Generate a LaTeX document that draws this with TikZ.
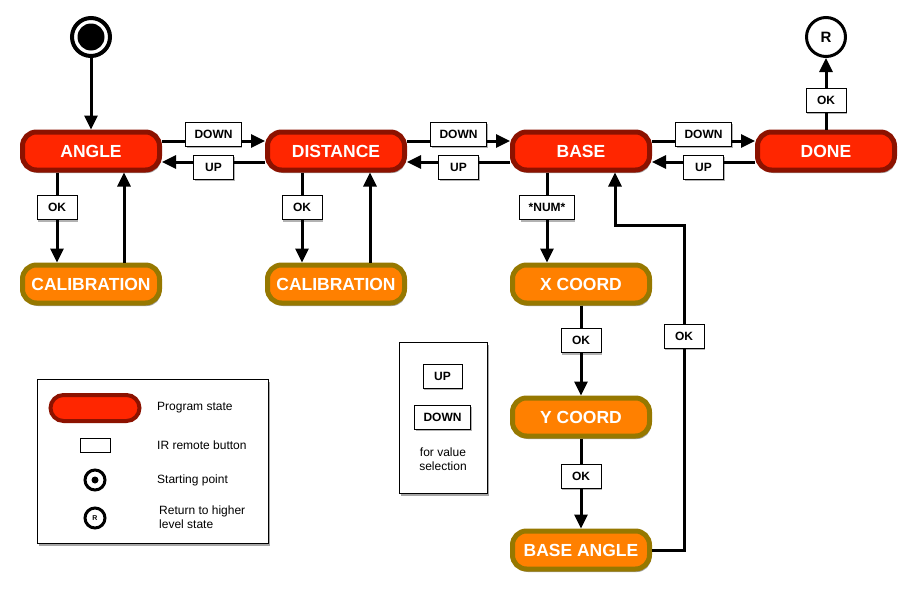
\documentclass[tikz,border=0pt]{standalone}
\usepackage{fontspec}
\setmainfont{Liberation Sans}
\usetikzlibrary{arrows.meta,shadows,calc}
\definecolor{stRed}{RGB}{255,38,0}
\definecolor{stRedB}{RGB}{140,18,0}
\definecolor{subOr}{RGB}{255,128,0}
\definecolor{subOrB}{RGB}{150,120,0}
\tikzset{
 shad/.style={drop shadow={shadow xshift=1.5pt,shadow yshift=-3pt,opacity=0.35,fill=black}},
 shadsmall/.style={drop shadow={shadow xshift=1pt,shadow yshift=-2pt,opacity=0.3,fill=black}},
 mainstate/.style={rectangle,rounded corners=14pt,minimum width=137pt,minimum height=38pt,line width=5pt,draw=stRedB,fill=stRed,text=white,font=\bfseries\fontsize{17.5}{20}\selectfont,shad},
 substate/.style={mainstate,draw=subOrB,fill=subOr},
 btn/.style={rectangle,draw=black,line width=1pt,fill=white,minimum width=40pt,minimum height=24pt,inner xsep=9pt,text=black,font=\bfseries\fontsize{12}{14}\selectfont,shadsmall},
 arr/.style={line width=3pt,-{Triangle[length=14pt,width=13pt]}},
 legtext/.style={font=\fontsize{12}{13.5}\selectfont,anchor=west,inner sep=0pt,align=left},
}
\begin{document}
\begin{tikzpicture}[x=1pt,y=-1pt]
\useasboundingbox (0,0) rectangle (916,597);
% start and return
\node[circle,draw,line width=4pt,minimum size=38pt,fill=white,inner sep=0pt] (start) at (91,37) {};
\fill (start.center) circle (13.5pt);
\node[circle,draw,line width=3pt,minimum size=39pt,fill=white,inner sep=0pt,font=\bfseries\fontsize{15}{17}\selectfont] (ret) at (826,37) {R};
% states
\node[mainstate] (angle) at (91,151) {ANGLE};
\node[mainstate] (dist) at (336,151) {DISTANCE};
\node[mainstate] (base) at (581,151) {BASE};
\node[mainstate] (done) at (826,151) {DONE};
\node[substate] (cal1) at (91,284) {CALIBRATION};
\node[substate] (cal2) at (336,284) {CALIBRATION};
\node[substate] (xc) at (581,284) {X COORD};
\node[substate] (yc) at (581,417) {Y COORD};
\node[substate] (ba) at (581,550) {BASE ANGLE};
% connectors
\draw[arr] (start.south) -- (angle.north);
\draw[arr] ([yshift=10pt]angle.east) -- node[btn,yshift=7pt]{DOWN} ([yshift=10pt]dist.west);
\draw[arr] ([yshift=-11pt]dist.west) -- node[btn,yshift=-5pt]{UP} ([yshift=-11pt]angle.east);
\draw[arr] ([yshift=10pt]dist.east) -- node[btn,yshift=7pt]{DOWN} ([yshift=10pt]base.west);
\draw[arr] ([yshift=-11pt]base.west) -- node[btn,yshift=-5pt]{UP} ([yshift=-11pt]dist.east);
\draw[arr] ([yshift=10pt]base.east) -- node[btn,yshift=7pt]{DOWN} ([yshift=10pt]done.west);
\draw[arr] ([yshift=-11pt]done.west) -- node[btn,yshift=-5pt]{UP} ([yshift=-11pt]base.east);
\draw[arr] ([xshift=-34pt]angle.south) -- node[btn,pos=0.39]{OK} ([xshift=-34pt]cal1.north);
\draw[arr] ([xshift=33pt]cal1.north) -- ([xshift=33pt]angle.south);
\draw[arr] ([xshift=-34pt]dist.south) -- node[btn,pos=0.39]{OK} ([xshift=-34pt]cal2.north);
\draw[arr] ([xshift=34pt]cal2.north) -- ([xshift=34pt]dist.south);
\draw[arr] ([xshift=-34pt]base.south) -- node[btn,pos=0.39]{*NUM*} ([xshift=-34pt]xc.north);
\draw[arr] (xc.south) -- node[btn,pos=0.39]{OK} (yc.north);
\draw[arr] (yc.south) -- node[btn,pos=0.42]{OK} (ba.north);
\draw[arr] (done.north) -- node[btn,pos=0.41]{OK} (ret.south);
\coordinate (rc) at (684,225);
\draw[arr] (ba.east) -| (rc) -| ([xshift=34pt]base.south);
\node[btn] (okret) at (684,336) {OK};
% legend
\node[draw,line width=0.8pt,fill=white,minimum width=231pt,minimum height=164pt,inner sep=0pt,shad,anchor=north west] (legend) at (37,379) {};
\node[rectangle,rounded corners=13pt,minimum width=89pt,minimum height=26pt,line width=4pt,draw=stRedB,fill=stRed,inner sep=0pt] (legstate) at (95,408) {};
\node[draw,line width=0.8pt,minimum width=30pt,minimum height=14pt,inner sep=0pt] (legbtn) at (95,445) {};
\node[circle,draw,line width=3pt,minimum size=20pt,inner sep=0pt] (legstart) at (95,480) {};
\fill (legstart.center) circle (3.5pt);
\node[circle,draw,line width=3pt,minimum size=20pt,inner sep=0pt,font=\bfseries\fontsize{7}{8}\selectfont] (legret) at (95,518) {R};
\node[legtext] (lt1) at (157,408) {Program state};
\node[legtext] (lt2) at (157,445) {IR remote button};
\node[legtext] (lt3) at (157,480) {Starting point};
\node[legtext] (lt4) at (159,517) {Return to higher\\level state};
% value box
\node[draw,line width=0.8pt,fill=white,minimum width=88pt,minimum height=151pt,inner sep=0pt,shad] (valbox) at (443,417.5) {};
\node[btn,minimum width=39pt] (vup) at (442.5,376) {UP};
\node[btn] (vdown) at (442.5,417) {DOWN};
\node[font=\fontsize{12}{13.5}\selectfont,align=center,inner sep=0pt] (vtext) at (443,459) {for value\\selection};
\end{tikzpicture}
\end{document}
